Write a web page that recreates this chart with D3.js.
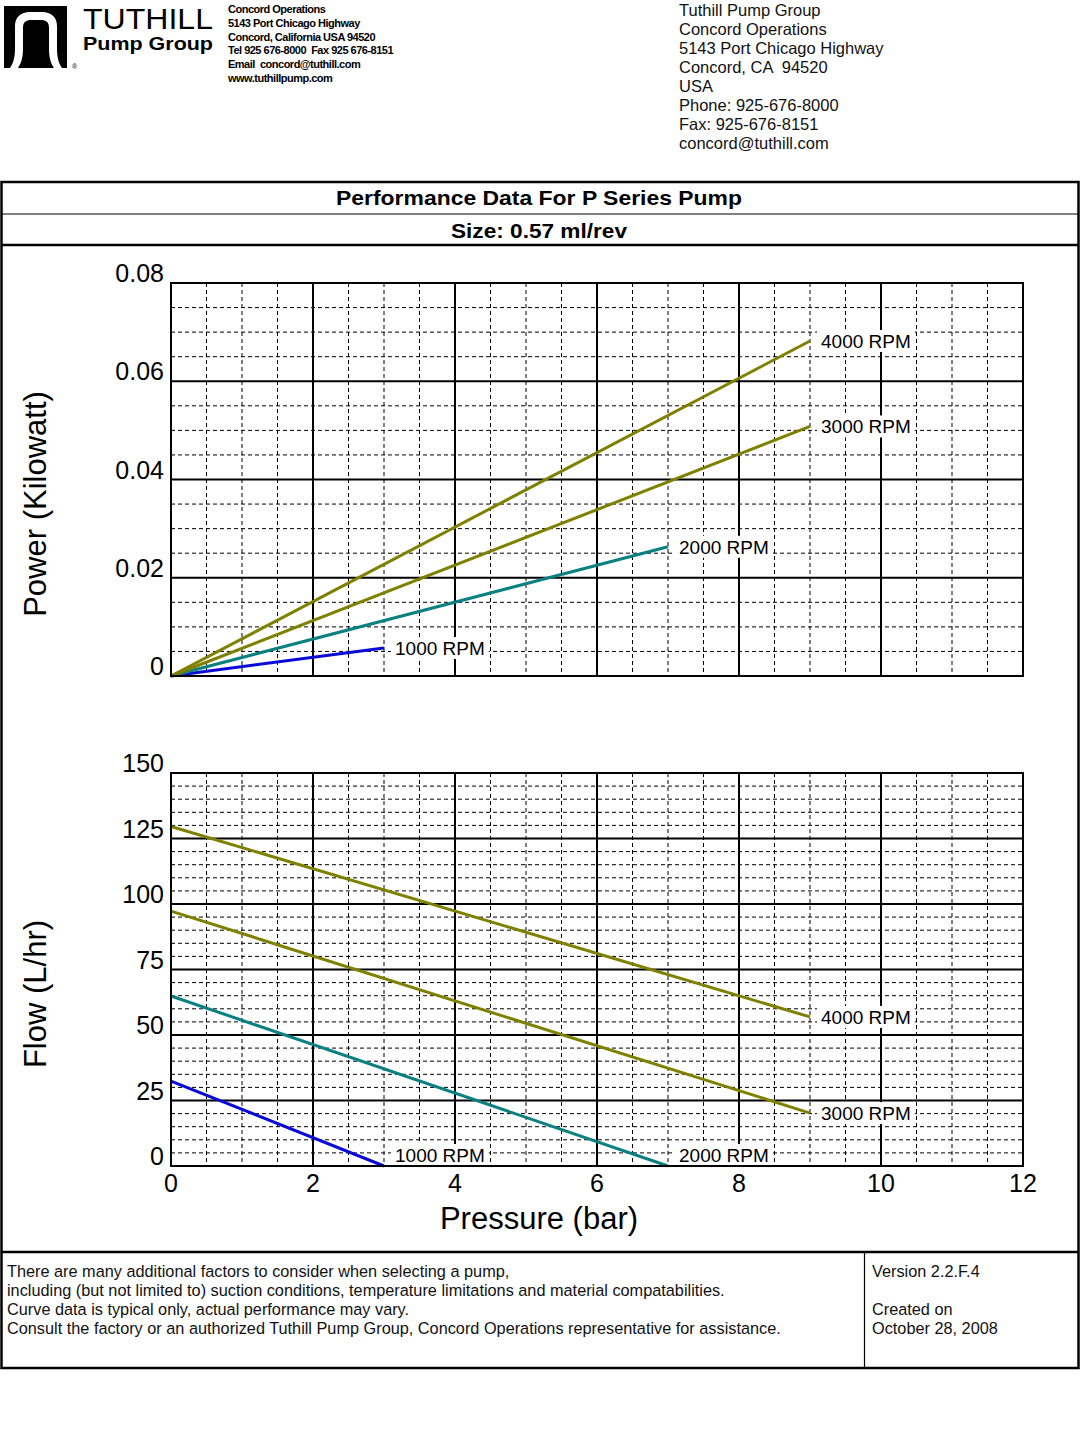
<!DOCTYPE html>
<html>
<head>
<meta charset="utf-8">
<script src="https://cdn.jsdelivr.net/npm/d3@7"></script>
<style>
  body { margin: 0; background: #fff; }
  svg { display: block; font-family: "Liberation Sans", Arial, sans-serif; }
  .pre { white-space: pre; }
</style>
</head>
<body>
<svg id="sheet" width="1080" height="1440"></svg>
<script>
// chart values
const rpmSeries   = ["1000 RPM", "2000 RPM", "3000 RPM", "4000 RPM"];
const maxPressure = [3, 7, 9, 9];              // bar, where each curve stops
const powerStart  = [0, 0, 0, 0];              // kW at 0 bar
const powerEnd    = [0.0057, 0.0263, 0.0508, 0.0682];
const flowStart   = [32.4, 64.9, 97.3, 129.6]; // L/hr at 0 bar
const flowEnd     = [0, 0, 20.2, 56.9];
const seriesColor = ["#0a0ad8", "#0a8080", "#808000", "#808000"];

const pressureTicks = [0, 2, 4, 6, 8, 10, 12];
const powerTicks    = [0, 0.02, 0.04, 0.06, 0.08];
const powerTickText = ["0", "0.02", "0.04", "0.06", "0.08"];
const flowTicks     = [0, 25, 50, 75, 100, 125, 150];

const headerLeft = ["Concord Operations", "5143 Port Chicago Highway", "Concord, California USA 94520",
                    "Tel 925 676-8000  Fax 925 676-8151", "Email  concord@tuthill.com", "www.tuthillpump.com"];
const headerRight = ["Tuthill Pump Group", "Concord Operations", "5143 Port Chicago Highway", "Concord, CA  94520",
                     "USA", "Phone: 925-676-8000", "Fax: 925-676-8151", "concord@tuthill.com"];
const footerLines = ["There are many additional factors to consider when selecting a pump,",
                     "including (but not limited to) suction conditions, temperature limitations and material compatabilities.",
                     "Curve data is typical only, actual performance may vary.",
                     "Consult the factory or an authorized Tuthill Pump Group, Concord Operations representative for assistance."];
const footerRight = ["Version 2.2.F.4", "", "Created on", "October 28, 2008"];

const svg = d3.select("#sheet");

// ---- letterhead
const logo = svg.append("g");
logo.append("rect").attr("x", 4).attr("y", 6).attr("width", 63).attr("height", 62).attr("fill", "#000");
logo.append("path")
  .attr("fill", "#fff")
  .attr("d", "M10,68 C14,62 15,56 15,48 L15,26 C15,17 21,12 30,12 L42,12 C51,12 57,17 57,26 L57,48 C57,56 58,62 62,68 L54,68 C50,62 49,56 49,48 L49,28 C49,22 46,20 41,20 L31,20 C26,20 23,22 23,28 L23,48 C23,56 22,62 18,68 Z");
logo.append("text").attr("x", 72).attr("y", 69).attr("font-size", 7).text("®");

svg.append("text").attr("x", 83).attr("y", 29).attr("font-size", 30)
  .attr("textLength", 130).attr("lengthAdjust", "spacingAndGlyphs").text("TUTHILL");
svg.append("text").attr("x", 83).attr("y", 50).attr("font-size", 19).attr("font-weight", "bold")
  .attr("textLength", 130).attr("lengthAdjust", "spacingAndGlyphs").text("Pump Group");

svg.append("g").selectAll("text").data(headerLeft).enter().append("text")
  .attr("class", "pre")
  .attr("x", 228).attr("y", (d, i) => 13 + i * 13.8)
  .attr("font-size", 11).attr("font-weight", "bold").attr("letter-spacing", -0.5)
  .text(d => d);

svg.append("g").selectAll("text").data(headerRight).enter().append("text")
  .attr("class", "pre")
  .attr("x", 679).attr("y", (d, i) => 16 + i * 19)
  .attr("font-size", 16.5).attr("fill", "#111")
  .text(d => d);

// ---- frame
const frame = svg.append("g").attr("stroke", "#000").attr("fill", "none");
frame.append("rect").attr("x", 1.5).attr("y", 182).attr("width", 1077).attr("height", 1186).attr("stroke-width", 2.5);
frame.append("line").attr("x1", 1).attr("x2", 1079).attr("y1", 214).attr("y2", 214).attr("stroke-width", 1.2);
frame.append("line").attr("x1", 1).attr("x2", 1079).attr("y1", 245).attr("y2", 245).attr("stroke-width", 2.5);
frame.append("line").attr("x1", 1).attr("x2", 1079).attr("y1", 1252).attr("y2", 1252).attr("stroke-width", 2.5);
frame.append("line").attr("x1", 864.5).attr("x2", 864.5).attr("y1", 1252).attr("y2", 1368).attr("stroke-width", 1.2);

svg.append("text").attr("x", 539).attr("y", 205).attr("text-anchor", "middle")
  .attr("font-size", 21).attr("font-weight", "bold")
  .attr("textLength", 406).attr("lengthAdjust", "spacingAndGlyphs")
  .text("Performance Data For P Series Pump");
svg.append("text").attr("x", 539).attr("y", 238).attr("text-anchor", "middle")
  .attr("font-size", 21).attr("font-weight", "bold")
  .attr("textLength", 176).attr("lengthAdjust", "spacingAndGlyphs")
  .text("Size: 0.57 ml/rev");

svg.append("g").selectAll("text").data(footerLines).enter().append("text")
  .attr("x", 7).attr("y", (d, i) => 1277 + i * 19).attr("font-size", 16.3).attr("fill", "#111").text(d => d);
svg.append("g").selectAll("text").data(footerRight).enter().append("text")
  .attr("x", 872).attr("y", (d, i) => 1277 + i * 19).attr("font-size", 16.3).attr("fill", "#111").text(d => d);

// ---- charts
const x = d3.scaleLinear().domain([0, 12]).range([171, 1023]);
const yPower = d3.scaleLinear().domain([0, 0.08]).range([676, 283]);
const yFlow = d3.scaleLinear().domain([0, 150]).range([1166, 773]);

function drawPanel(y, ticks, tickText, minorStep, starts, ends, title, titleY) {
  const g = svg.append("g");
  const [y0, y1] = y.domain();
  const minorX = d3.range(0, 12.001, 0.5).filter(v => v % 2 !== 0);
  const minorY = d3.range(y0, y1 + minorStep / 2, minorStep)
    .filter(v => !ticks.some(t => Math.abs(t - v) < minorStep / 10));

  g.append("g").selectAll("line").data(minorX).enter().append("line")
    .attr("x1", d => x(d)).attr("x2", d => x(d)).attr("y1", y.range()[1]).attr("y2", y.range()[0])
    .attr("stroke", "#000").attr("stroke-width", 1).attr("stroke-dasharray", "4,3");
  g.append("g").selectAll("line").data(minorY).enter().append("line")
    .attr("x1", x(0)).attr("x2", x(12)).attr("y1", d => y(d)).attr("y2", d => y(d))
    .attr("stroke", "#000").attr("stroke-width", 1).attr("stroke-dasharray", "4,3");
  g.append("g").selectAll("line").data(pressureTicks).enter().append("line")
    .attr("x1", d => x(d)).attr("x2", d => x(d)).attr("y1", y.range()[1]).attr("y2", y.range()[0])
    .attr("stroke", "#000").attr("stroke-width", 2);
  g.append("g").selectAll("line").data(ticks).enter().append("line")
    .attr("x1", x(0)).attr("x2", x(12)).attr("y1", d => y(d)).attr("y2", d => y(d))
    .attr("stroke", "#000").attr("stroke-width", 2);

  // y tick labels
  g.append("g").selectAll("text").data(ticks).enter().append("text")
    .attr("x", 164).attr("y", d => y(d) - 1).attr("text-anchor", "end")
    .attr("font-size", 25).text((d, i) => tickText[i]);

  // curves
  const line = d3.line().x(d => x(d[0])).y(d => y(d[1]));
  rpmSeries.forEach((name, i) => {
    g.append("path")
      .datum([[0, starts[i]], [maxPressure[i], ends[i]]])
      .attr("d", line).attr("fill", "none")
      .attr("stroke", seriesColor[i]).attr("stroke-width", 3);
  });

  // curve labels with white backing
  rpmSeries.forEach((name, i) => {
    const lx = x(maxPressure[i]) + 8;
    const ly = Math.min(y(ends[i]), y.range()[0] - 11);
    const t = g.append("text").attr("x", lx + 3).attr("y", ly + 7)
      .attr("font-size", 19).text(name);
    const bb = t.node().getBBox();
    g.insert("rect", function () { return t.node(); })
      .attr("x", bb.x - 4).attr("y", ly - 11).attr("width", bb.width + 8).attr("height", 22)
      .attr("fill", "#fff");
  });

  // plot border
  g.append("rect").attr("x", x(0)).attr("y", y.range()[1])
    .attr("width", x(12) - x(0)).attr("height", y.range()[0] - y.range()[1])
    .attr("fill", "none").attr("stroke", "#000").attr("stroke-width", 2);

  svg.append("text").attr("transform", `translate(46,${titleY}) rotate(-90)`)
    .attr("text-anchor", "middle").attr("font-size", 31).text(title);
}

drawPanel(yPower, powerTicks, powerTickText, 0.005, powerStart, powerEnd, "Power (Kilowatt)", 504);
drawPanel(yFlow, flowTicks, flowTicks.map(String), 5, flowStart, flowEnd, "Flow (L/hr)", 994);

// x tick labels under the flow panel
svg.append("g").selectAll("text").data(pressureTicks).enter().append("text")
  .attr("x", d => x(d)).attr("y", 1192).attr("text-anchor", "middle")
  .attr("font-size", 25).text(d => d);
svg.append("text").attr("x", 539).attr("y", 1229).attr("text-anchor", "middle")
  .attr("font-size", 31).text("Pressure (bar)");
</script>
</body>
</html>
